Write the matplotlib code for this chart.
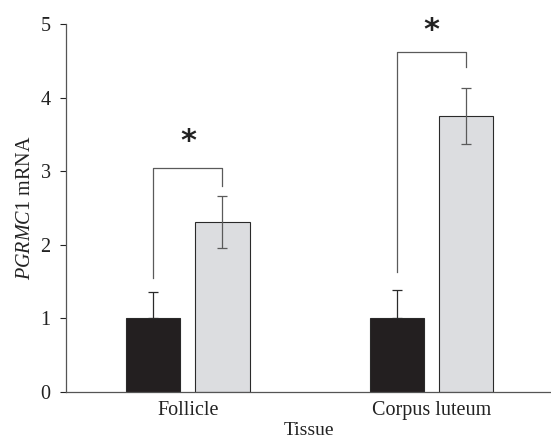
import numpy as np
import matplotlib
matplotlib.use("Agg")
import matplotlib.pyplot as plt

# ----- S E T T I N G S -----
plt.rcParams["font.family"] = ["Liberation Serif", "DejaVu Serif"]
plt.rcParams["mathtext.fontset"] = "custom"
plt.rcParams["mathtext.rm"] = "Liberation Serif"
plt.rcParams["mathtext.it"] = "Liberation Serif:italic"

_black, _light, _edge, _err = "#231f20", "#dcdde0", "#2a2a2a", "#5a5a5a"

# ----- D A T A -----
tissues = ["Follicle", "Corpus luteum"]
control_mean = [1.0, 1.0]
control_err = [0.35, 0.38]
treated_mean = [2.31, 3.75]
treated_err = [0.35, 0.38]
bracket_left = [1.55, 1.63]    # bottom of left bracket leg
bracket_top = [3.04, 4.62]
bracket_right = [2.80, 4.41]   # bottom of right bracket leg
star_y = [3.21, 4.71]

# ----- P L O T -----
fig = plt.figure(figsize=(5.51, 4.45), dpi=100)
ax = fig.add_axes([0.1198, 0.1198, 0.8802, 0.8262])

x = np.arange(len(tissues))
off, w = 0.142, 0.223

ax.bar(x - off, control_mean, width=w, color=_black, edgecolor=_edge, linewidth=0.8, zorder=2)
ax.bar(x + off, treated_mean, width=w, color=_light, edgecolor=_edge, linewidth=0.8, zorder=2)
ax.errorbar(x - off, control_mean, yerr=[np.zeros(2), control_err], fmt="none",
            ecolor=_edge, elinewidth=0.9, capsize=3.5, capthick=0.9, zorder=3)
ax.errorbar(x + off, treated_mean, yerr=treated_err, fmt="none",
            ecolor=_err, elinewidth=0.9, capsize=3.5, capthick=0.9, zorder=3)

# significance brackets
for i in range(len(tissues)):
    xl, xr = x[i] - off, x[i] + off
    ax.plot([xl, xl, xr, xr], [bracket_left[i], bracket_top[i], bracket_top[i], bracket_right[i]],
            color=_err, lw=0.9, zorder=3)
    ax.text(x[i], star_y[i], "*", ha="center", va="bottom", fontsize=22,
            fontweight="bold", family="DejaVu Sans", color="#222222")

ax.set_xlim(-0.5, 1.49)
ax.set_ylim(0, 5)
ax.set_yticks(range(6))
ax.set_xticks(x)
ax.set_xticklabels(tissues, fontsize=14.5)
ax.tick_params(axis="x", length=0, pad=7, colors="#222222")
ax.tick_params(axis="y", length=4, width=0.8, pad=7, labelsize=14.5, colors="#222222")
for s in ["top", "right"]:
    ax.spines[s].set_visible(False)
for s in ["left", "bottom"]:
    ax.spines[s].set_color("#555555")
    ax.spines[s].set_linewidth(0.9)

ax.set_xlabel("Tissue", fontsize=14, labelpad=1.5, color="#222222")
ax.set_ylabel(r"$\it{PGRMC1}$ mRNA", fontsize=14.5, labelpad=4, color="#222222")

plt.savefig("out.png", dpi=100)
